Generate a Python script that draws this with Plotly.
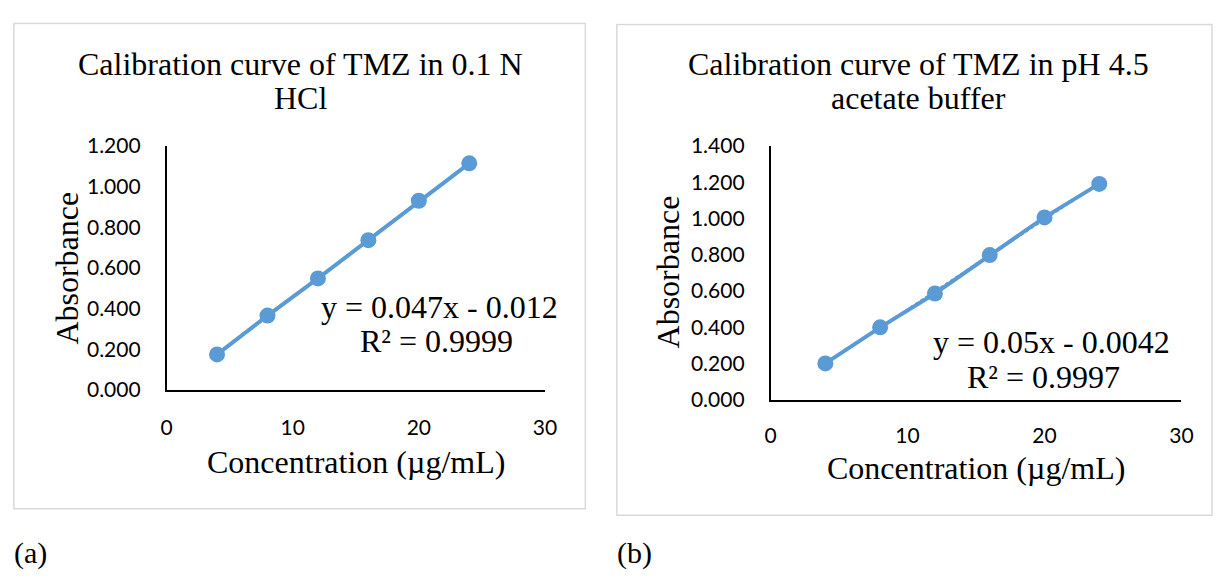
import numpy as np
import plotly.graph_objects as go

# ---------------- data ----------------
conc_a = [4, 8, 12, 16, 20, 24]
abs_a = [0.175, 0.366, 0.549, 0.737, 0.931, 1.115]
conc_b = [4, 8, 12, 16, 20, 24]
abs_b = [0.200, 0.399, 0.586, 0.798, 1.006, 1.191]

title_a = ["Calibration curve of TMZ in 0.1 N", "HCl"]
title_b = ["Calibration curve of TMZ in pH 4.5", "acetate buffer"]
eq_a = ["y = 0.047x - 0.012", "R² = 0.9999"]
eq_b = ["y = 0.05x - 0.0042", "R² = 0.9997"]
x_label = "Concentration (µg/mL)"
y_label = "Absorbance"
panel_labels = ["(a)", "(b)"]

W, H = 1223, 579
BLUE = "#5B9BD5"
SERIF = "Liberation Serif, Times New Roman, serif"
SANS = "Lato, Carlito, Calibri, sans-serif"


def px(x):
    return x / W


def py(y):
    return 1 - y / H


fig = go.Figure()

# trendlines (dotted, under the data line)
for conc, ab, xa, ya in [(conc_a, abs_a, "x", "y"), (conc_b, abs_b, "x2", "y2")]:
    m, b = np.polyfit(conc, ab, 1)
    tx = [min(conc), max(conc)]
    fig.add_trace(go.Scatter(x=tx, y=[m * v + b for v in tx], mode="lines",
                             line=dict(color=BLUE, width=2.5, dash="dot"),
                             xaxis=xa, yaxis=ya, showlegend=False, hoverinfo="skip"))

fig.add_trace(go.Scatter(x=conc_a, y=abs_a, mode="lines+markers",
                         line=dict(color=BLUE, width=4),
                         marker=dict(color=BLUE, size=16),
                         xaxis="x", yaxis="y", showlegend=False))
fig.add_trace(go.Scatter(x=conc_b, y=abs_b, mode="lines+markers",
                         line=dict(color=BLUE, width=4),
                         marker=dict(color=BLUE, size=16),
                         xaxis="x2", yaxis="y2", showlegend=False))

axis_common = dict(showline=True, linecolor="black", linewidth=1.5, showgrid=False,
                   zeroline=False, ticks="", tickfont=dict(family=SANS, size=21, color="black"))

fig.update_layout(
    width=W, height=H, margin=dict(l=0, r=0, t=0, b=0),
    paper_bgcolor="white", plot_bgcolor="white", showlegend=False,
    xaxis=dict(domain=[px(163), px(547)], range=[0, 30], dtick=10, anchor="y",
               ticklabelstandoff=18, **axis_common),
    yaxis=dict(domain=[py(393), py(138)], range=[0, 1.2], dtick=0.2, tickformat=".3f",
               anchor="x", ticklabelstandoff=20, **axis_common),
    xaxis2=dict(domain=[px(776), px(1193)], range=[0, 30], dtick=10, anchor="y2",
                ticklabelstandoff=16, **axis_common),
    yaxis2=dict(domain=[py(403), py(138)], range=[0, 1.4], dtick=0.2, tickformat=".3f",
                anchor="x2", ticklabelstandoff=20, **axis_common),
)

# panel borders
fig.add_shape(type="rect", xref="paper", yref="paper", x0=px(8), x1=px(588), y0=py(517), y1=py(10),
              line=dict(color="#d9d9d9", width=1.5), fillcolor="rgba(0,0,0,0)", layer="below")
fig.add_shape(type="rect", xref="paper", yref="paper", x0=px(620), x1=px(1224), y0=py(524), y1=py(11),
              line=dict(color="#d9d9d9", width=1.5), fillcolor="rgba(0,0,0,0)", layer="below")


def ann(text, x, y, size=32, rot=0, xanchor="center", family=SERIF):
    fig.add_annotation(text=text, xref="paper", yref="paper", x=px(x), y=py(y),
                       xanchor=xanchor, yanchor="middle", showarrow=False, textangle=rot,
                       font=dict(family=family, size=size, color="black"))


# titles
ann(title_a[0], 299, 52)
ann(title_a[1], 299, 88)
ann(title_b[0], 926, 52)
ann(title_b[1], 926, 88)

# axis titles
ann(x_label, 355, 468)
ann(x_label, 984, 475)
ann(y_label, 61, 266, rot=-90)
ann(y_label, 672, 270, rot=-90)

# equations
ann(eq_a[0], 440, 306)
ann(eq_a[1], 437, 342)
ann(eq_b[0], 1061, 343)
ann(eq_b[1], 1053, 379)

# panel labels
ann(panel_labels[0], 6, 563, size=30, xanchor="left")
ann(panel_labels[1], 618, 563, size=30, xanchor="left")

fig.write_html("out.html")
